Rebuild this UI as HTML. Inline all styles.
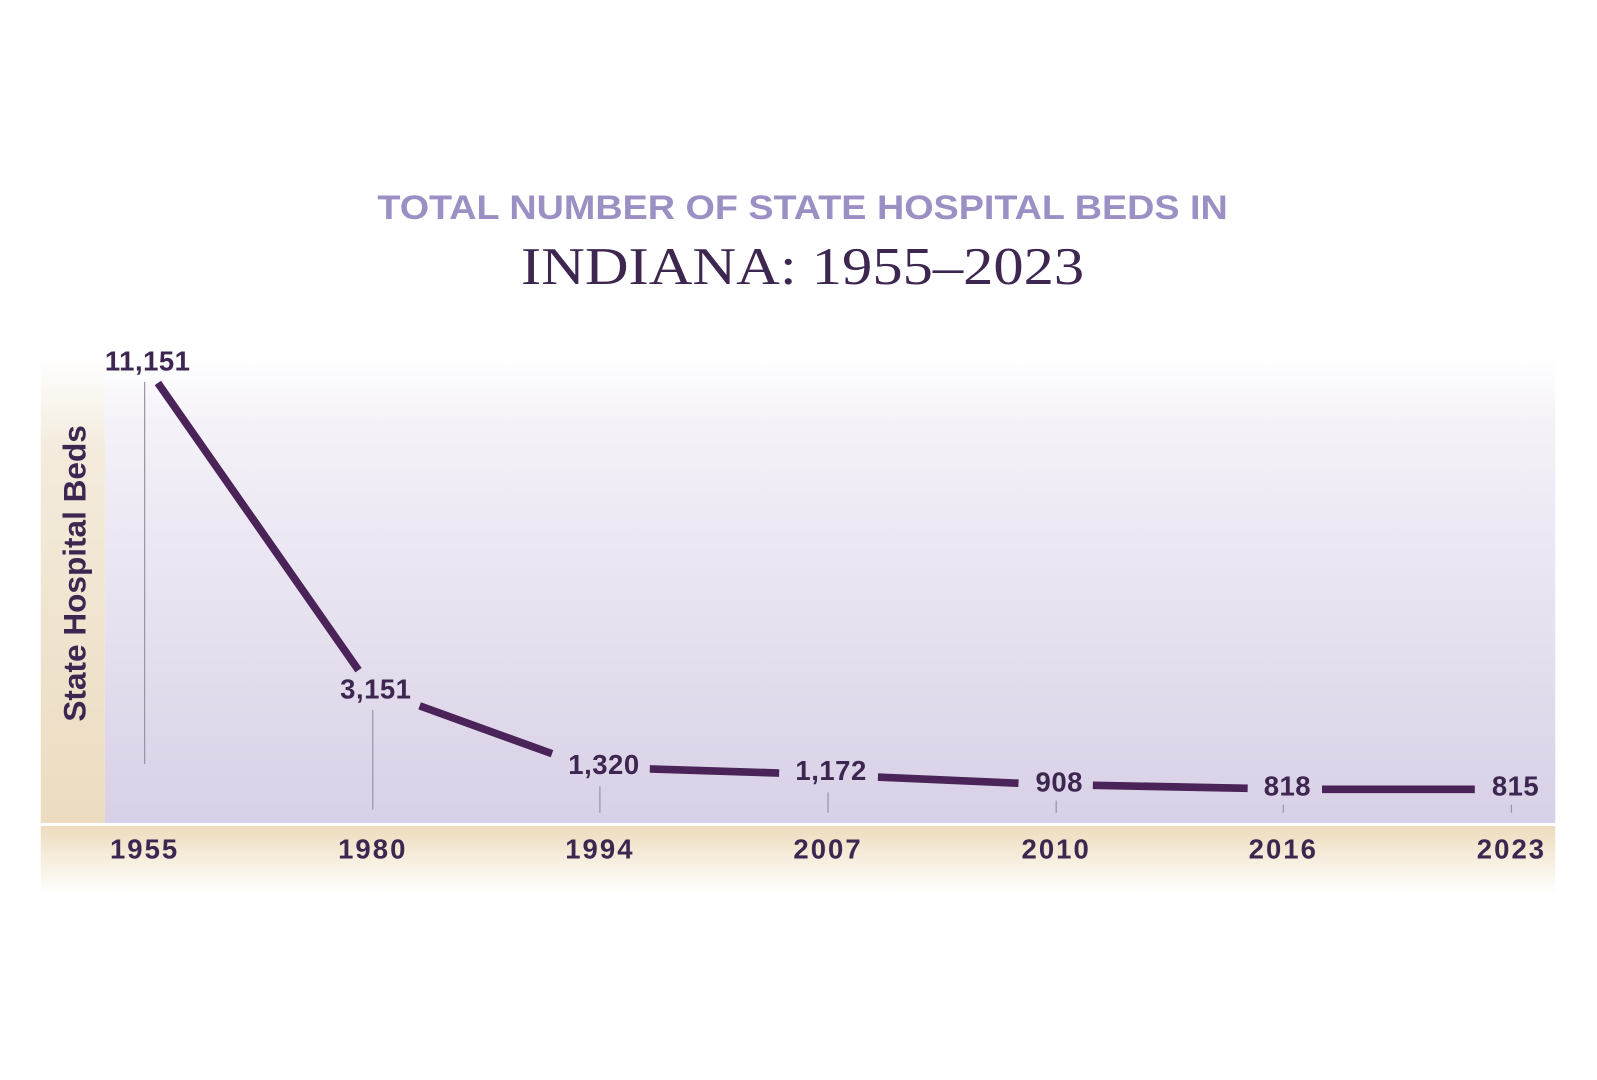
<!DOCTYPE html>
<html><head><meta charset="utf-8"><style>
html,body{margin:0;padding:0;background:#fff;}
svg{display:block}
</style></head><body>
<svg width="1597" height="1080" viewBox="0 0 1597 1080" xmlns="http://www.w3.org/2000/svg">
<defs>
<linearGradient id="plot" x1="0" y1="0" x2="0" y2="1">
<stop offset="0" stop-color="#ffffff"/>
<stop offset="0.15" stop-color="#f4f1f8"/>
<stop offset="1" stop-color="#d8d0e6"/>
</linearGradient>
<linearGradient id="strip" x1="0" y1="0" x2="0" y2="1">
<stop offset="0" stop-color="#ffffff"/>
<stop offset="0.2" stop-color="#f3ebdc"/>
<stop offset="1" stop-color="#ecdcc0"/>
</linearGradient>
<linearGradient id="band" x1="0" y1="0" x2="0" y2="1">
<stop offset="0" stop-color="#ecdcbd"/>
<stop offset="0.6" stop-color="#f8f1e4"/>
<stop offset="1" stop-color="#ffffff"/>
</linearGradient>
</defs>
<g transform="scale(1.0185)">
<rect x="40" y="350" width="63" height="458" fill="url(#strip)"/>
<rect x="103" y="350" width="1424" height="458" fill="url(#plot)"/>
<rect x="40" y="811" width="1487" height="66" fill="url(#band)"/>
<g stroke="#9a94a8" stroke-width="1.2">
<line x1="142" y1="375" x2="142" y2="750"/>
<line x1="366" y1="697" x2="366" y2="795"/>
<line x1="589" y1="772" x2="589" y2="798"/>
<line x1="813" y1="778" x2="813" y2="798"/>
<line x1="1037" y1="786" x2="1037" y2="798"/>
<line x1="1260" y1="790" x2="1260" y2="798"/>
<line x1="1484" y1="790" x2="1484" y2="798"/>
</g>
<g stroke="#4a2358" stroke-width="7.5" fill="none">
<line x1="155" y1="376" x2="352" y2="658"/>
<line x1="412" y1="693" x2="542" y2="740"/>
<line x1="638" y1="755" x2="765" y2="759"/>
<line x1="862" y1="763" x2="1000" y2="769"/>
<line x1="1073" y1="771" x2="1225" y2="774"/>
<line x1="1298" y1="775" x2="1448" y2="775"/>
</g>
<text x="788" y="215" text-anchor="middle" font-family="Liberation Sans, sans-serif" font-weight="bold" font-size="34" fill="#9b8fc4" textLength="835" lengthAdjust="spacingAndGlyphs">TOTAL NUMBER OF STATE HOSPITAL BEDS IN</text>
<text x="788" y="279" text-anchor="middle" font-family="Liberation Serif, serif" font-size="52" fill="#3d2650" textLength="553" lengthAdjust="spacingAndGlyphs">INDIANA: 1955–2023</text>
<text transform="translate(84,563) rotate(-90)" text-anchor="middle" font-family="Liberation Sans, sans-serif" font-weight="bold" font-size="31" fill="#3d2650">State Hospital Beds</text>
<g font-family="Liberation Sans, sans-serif" font-weight="bold" font-size="27" fill="#3d2650" text-anchor="middle" letter-spacing="0.5">
<text x="145" y="364">11,151</text>
<text x="369" y="686">3,151</text>
<text x="593" y="760">1,320</text>
<text x="816" y="766">1,172</text>
<text x="1040" y="777">908</text>
<text x="1264" y="781">818</text>
<text x="1488" y="781">815</text>
</g>
<g font-family="Liberation Sans, sans-serif" font-weight="bold" font-size="27" fill="#3d2650" text-anchor="middle" letter-spacing="2">
<text x="142" y="843">1955</text>
<text x="366" y="843">1980</text>
<text x="589" y="843">1994</text>
<text x="813" y="843">2007</text>
<text x="1037" y="843">2010</text>
<text x="1260" y="843">2016</text>
<text x="1484" y="843">2023</text>
</g>
</g>
</svg>
</body></html>
